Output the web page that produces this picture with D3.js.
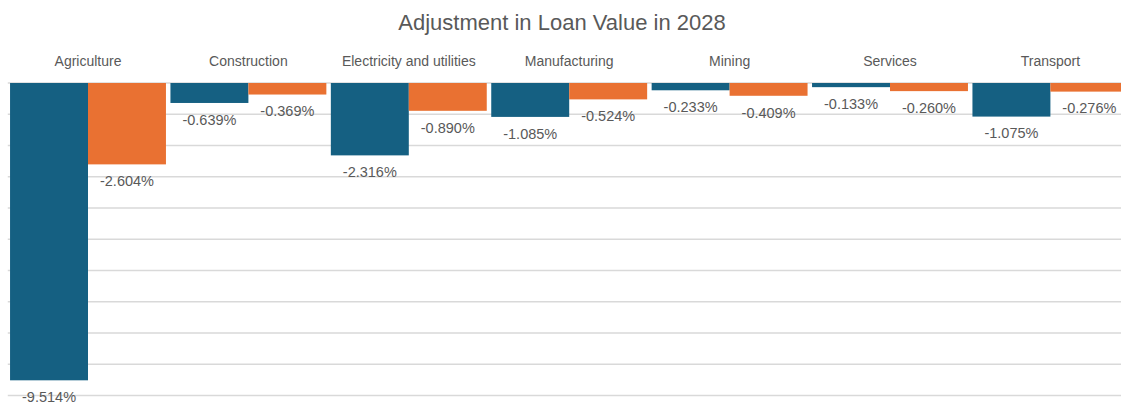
<!DOCTYPE html>
<html>
<head>
<meta charset="utf-8">
<script src="https://cdn.jsdelivr.net/npm/d3@7"></script>
<style>
  html, body { margin: 0; padding: 0; background: #fff; }
  svg { display: block; }
</style>
</head>
<body>
<svg id="chart" width="1121" height="402"></svg>
<script>
// Sectors and the two loan-value adjustment series (in %)
const categories = ["Agriculture", "Construction", "Electricity and utilities", "Manufacturing", "Mining", "Services", "Transport"];
const seriesNames = ["Series A", "Series B"];
const seriesA = [-9.514, -0.639, -2.316, -1.085, -0.233, -0.133, -1.075];
const seriesB = [-2.604, -0.369, -0.890, -0.524, -0.409, -0.260, -0.276];
const gridTicks = [0, -1, -2, -3, -4, -5, -6, -7, -8, -9, -10];
const colors = ["#156082", "#E97132"];

const svg = d3.select("#chart");
const W = 1121, H = 402;
const plot = { left: 7.8, right: 1130.6, top: 83, bottom: 395.5 };
const font = "Liberation Sans, Arial, sans-serif";

const x = d3.scaleBand().domain(categories).range([plot.left, plot.right]).paddingInner(0.028).paddingOuter(0.014);
const xs = d3.scaleBand().domain(seriesNames).range([0, x.bandwidth()]);
const y = d3.scaleLinear().domain([0, -10]).range([plot.top, plot.bottom]);

// Title
svg.append("text")
  .attr("x", 562).attr("y", 30)
  .attr("text-anchor", "middle")
  .attr("font-family", font)
  .attr("font-size", 22)
  .attr("fill", "#595959")
  .text("Adjustment in Loan Value in 2028");

// Horizontal gridlines
svg.append("g")
  .selectAll("line")
  .data(gridTicks)
  .join("line")
  .attr("x1", plot.left).attr("x2", W)
  .attr("y1", d => y(d)).attr("y2", d => y(d))
  .attr("stroke", "#d9d9d9")
  .attr("stroke-width", 1.3);

// Category labels sit above the zero line
const xAxis = svg.append("g")
  .attr("transform", `translate(0,${plot.top - 17})`)
  .call(d3.axisTop(x).tickSize(0).tickPadding(0));
xAxis.select(".domain").remove();
xAxis.selectAll("text")
  .attr("font-family", font)
  .attr("font-size", 14)
  .attr("fill", "#595959");

const rows = categories.map((c, i) => ({ cat: c, vals: [seriesA[i], seriesB[i]] }));

const groups = svg.append("g")
  .selectAll("g")
  .data(rows)
  .join("g")
  .attr("transform", d => `translate(${x(d.cat)},0)`);

const cells = groups.selectAll("g")
  .data(d => d.vals.map((v, j) => ({ name: seriesNames[j], v, j })))
  .join("g");

cells.append("rect")
  .attr("x", d => xs(d.name))
  .attr("y", y(0))
  .attr("width", xs.bandwidth())
  .attr("height", d => y(d.v) - y(0))
  .attr("fill", d => colors[d.j]);

// Value labels just below each bar end, with a plain hyphen as the minus sign
const fmt = v => v.toFixed(3) + "%";
cells.append("text")
  .attr("x", d => xs(d.name) + xs.bandwidth() / 2)
  .attr("y", d => y(d.v) + 18)
  .attr("dominant-baseline", "middle")
  .attr("text-anchor", "middle")
  .attr("font-family", font)
  .attr("font-size", 14.5)
  .attr("fill", "#595959")
  .text(d => fmt(d.v));
</script>
</body>
</html>
